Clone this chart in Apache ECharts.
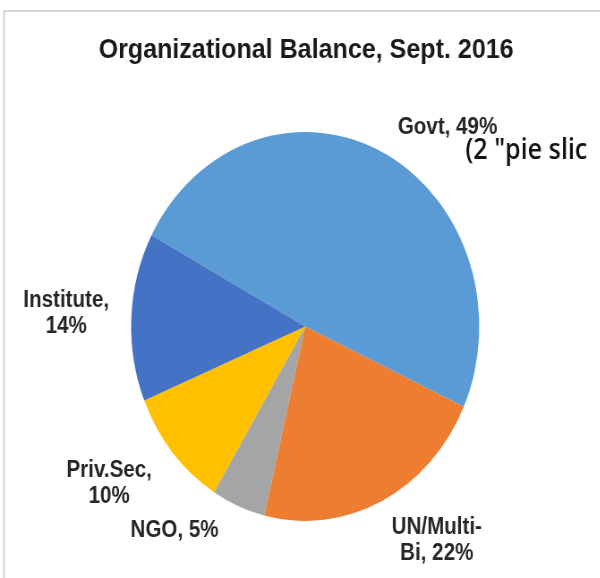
<!DOCTYPE html>
<html>
<head>
<meta charset="utf-8">
<script src="https://cdn.jsdelivr.net/npm/echarts@6/dist/echarts.min.js"></script>
<style>
html,body{margin:0;padding:0;background:#fff;overflow:hidden;width:600px;height:578px;}
#wrap{width:600px;height:578px;overflow:hidden;position:relative;}
#chart{width:671px;height:578px;transform:scaleX(0.895);transform-origin:0 0;}
</style>
</head>
<body>
<div id="wrap"><div id="chart"></div></div>
<script>
// ---- data ----
var titleText = 'Organizational Balance, Sept. 2016';
var categories = ['Govt', 'UN/Multi-Bi', 'NGO', 'Priv.Sec', 'Institute'];
var labelNames = ['Govt', 'UN/Multi-\nBi', 'NGO', 'Priv.Sec', 'Institute'];
var labelSeparators = [', ', ', ', ', ', ',\n', ',\n'];
var values = [49, 22, 5, 10, 14];
var noteText = '(2 "pie slic';

// ---- styles / layout (separate from data) ----
var colors = ['#5B9BD5', '#ED7D31', '#A5A5A5', '#FFC000', '#4472C4'];
var labelPos = [[500, 128], [488, 541], [195, 531], [122, 484], [74, 314]];

var chart = echarts.init(document.getElementById('chart'), null, {renderer: 'canvas'});
var fontFam = '"Liberation Sans", Arial, sans-serif';

chart.setOption({
  animation: false,
  backgroundColor: '#ffffff',
  title: {
    text: titleText,
    left: 337, top: 31, textAlign: 'center',
    textStyle: {fontFamily: fontFam, fontWeight: 'bold', fontSize: 28, color: '#1a1a1a'}
  },
  graphic: [
    {type: 'line', shape: {x1: 4, y1: 11, x2: 671, y2: 11}, style: {stroke: '#c8c8c8', lineWidth: 1.5}, silent: true},
    {type: 'line', shape: {x1: 4.5, y1: 11, x2: 4.5, y2: 578}, style: {stroke: '#c8c8c8', lineWidth: 1.5}, silent: true},
    {type: 'text', left: 520, top: 137, silent: true,
     style: {text: noteText, fontFamily: '"Open Sans", "Noto Sans", sans-serif', fontWeight: 600, fontSize: 28, fill: '#111111'}}
  ],
  series: [{
    type: 'pie',
    center: [341, 326.5],
    radius: 194.5,
    startAngle: 152,
    clockwise: true,
    avoidLabelOverlap: false,
    itemStyle: {borderWidth: 0},
    label: {
      show: true,
      position: 'outside',
      fontFamily: fontFam,
      fontWeight: 'bold',
      fontSize: 23,
      lineHeight: 26,
      color: '#262626',
      align: 'center',
      formatter: function (p) {
        return labelNames[p.dataIndex] + labelSeparators[p.dataIndex] + p.value + '%';
      }
    },
    labelLine: {show: false},
    labelLayout: function (p) {
      var pos = labelPos[p.dataIndex];
      return {x: pos[0], y: pos[1], align: 'center', verticalAlign: 'middle'};
    },
    emphasis: {disabled: true},
    data: categories.map(function (c, i) {
      return {name: c, value: values[i], itemStyle: {color: colors[i]}};
    })
  }]
});
</script>
</body>
</html>
